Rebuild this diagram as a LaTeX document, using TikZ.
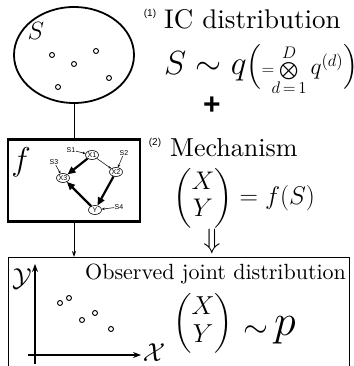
\RequirePackage{fix-cm}
\documentclass[tikz,border=0pt]{standalone}
\usepackage{amsmath}
\usepackage{fontspec}
\setmainfont{lmroman10-regular}[Extension=.otf]
\newfontfamily\labelfont{Liberation Sans}
\usetikzlibrary{arrows.meta,positioning,shapes.geometric}

\tikzset{
  gnode/.style={draw, ellipse, line width=0.6pt, inner sep=0pt, minimum width=13pt, minimum height=9pt, font=\labelfont\fontsize{7}{8}\selectfont},
  slabel/.style={font=\labelfont\fontsize{7}{8}\selectfont, inner sep=0.5pt},
  causal/.style={-{Triangle[length=8pt,width=7pt]}, line width=2.2pt},
  feed/.style={-{Stealth[length=3pt,width=2.5pt]}, line width=0.5pt},
  dot/.style={circle, draw, line width=0.9pt, minimum size=5pt, inner sep=0pt},
  bigtext/.style={anchor=base west, inner sep=0pt},
}

\begin{document}
\begin{tikzpicture}[x=1pt, y=-1pt]
  \useasboundingbox (0,0) rectangle (353,366);
  \clip (0,0) rectangle (353,366);

  % Independent components
  \node[draw, ellipse, line width=1.8pt, minimum width=120pt, minimum height=96pt] (ics) at (74,55) {};
  \node[font=\fontsize{25}{28}\selectfont] (setS) at (36,31) {$S$};
  \foreach \px/\py/\k in {52/55/1, 74/64/2, 96/51/3, 58/87/4, 109/78/5}
    \node[dot] (ic\k) at (\px,\py) {};

  % Mechanism box with the causal graph
  \node[draw, line width=2.4pt, minimum width=132pt, minimum height=82pt, inner sep=0pt] (mech) at (74,180.5) {};
  \node[font=\fontsize{33}{36}\selectfont] (fname) at (21,162) {$f$};

  \node[gnode] (x1) at (92,155) {X1};
  \node[gnode] (x2) at (116,172) {X2};
  \node[gnode] (x3) at (63,178) {X3};
  \node[gnode] (y) at (95,210) {Y};
  \node[slabel] (s1) at (71,150) {S1};
  \node[slabel] (s2) at (124,153) {S2};
  \node[slabel] (s3) at (54,162) {S3};
  \node[slabel] (s4) at (119,207) {S4};

  \draw[feed] (s1) -- (x1);
  \draw[feed] (s2) -- (x2);
  \draw[feed] (s3) -- (x3);
  \draw[feed] (s4) -- (y);
  \draw[feed] (x1) -- (x2);
  \draw[causal] (x1) -- (x3);
  \draw[causal] (x2) -- (y);
  \draw[causal] (y) -- (x3);

  % Observation box (open at the bottom)
  \node[draw, line width=1pt, minimum width=341pt, minimum height=140pt, anchor=north, inner sep=0pt] (obs) at (178.5,257) {};

  \draw[line width=1pt] (ics.south) -- (mech.north);
  \draw[line width=1pt, -{Stealth[length=6pt,width=4pt]}] (mech.south) -- (mech.south |- obs.north);

  % (1) and (2) on the right
  \node[font=\labelfont\fontsize{10}{12}\selectfont] (num1) at (150,14) {(1)};
  \node[bigtext, font=\fontsize{27}{30}\selectfont] (icdist) at (164,29) {IC distribution};
  \node[bigtext, font=\fontsize{33.5}{37}\selectfont] (icform) at (164,75) {$S\sim q\bigl(\scriptscriptstyle=\!\bigotimes\limits_{d\,=\,1}^{D}\scriptstyle q^{(d)}\bigr)$};
  \node[font=\labelfont\bfseries\fontsize{30}{32}\selectfont] (plus) at (212,106) {+};
  \node[font=\labelfont\fontsize{10}{12}\selectfont] (num2) at (155,143) {(2)};
  \node[bigtext, font=\fontsize{26}{28}\selectfont] (mechtxt) at (170,157) {Mechanism};
  \node[anchor=west, inner sep=0pt, font=\fontsize{25.5}{27}\selectfont] (mechform) at (173,198) {$\begin{pmatrix}X\\Y\end{pmatrix}=f(S)$};
  \node[font=\fontsize{28}{30}\selectfont] (implies) at (212,241) {$\Downarrow$};

  % Observed joint distribution
  \node[bigtext, font=\fontsize{22}{24}\selectfont] (obstxt) at (85,279) {Observed joint distribution};
  \coordinate (xstart) at (28,355);
  \coordinate (xend) at (141,355);
  \coordinate (ystart) at (35,364);
  \coordinate (yend) at (35,264);
  \draw[line width=1.2pt, -{Stealth[length=8pt,width=6pt]}] (xstart) -- (xend);
  \draw[line width=1.2pt, -{Stealth[length=8pt,width=6pt]}] (ystart) -- (yend);
  \node[font=\fontsize{26}{28}\selectfont] (xlab) at (154,353) {$\mathcal{X}$};
  \node[font=\fontsize{26}{28}\selectfont] (ylab) at (22,279) {$\mathcal{Y}$};
  \foreach \px/\py/\k in {60/303/1, 69/298/2, 82/320/3, 95/313/4, 111/329/5}
    \node[dot] (obs\k) at (\px,\py) {};

  \node[font=\fontsize{26}{28}\selectfont] (obsmat) at (203,323) {$\begin{pmatrix}X\\Y\end{pmatrix}$};
  \node[font=\fontsize{32}{34}\selectfont] (simnode) at (256,332) {$\sim$};
  \node[anchor=base, font=\fontsize{44}{46}\selectfont] (pnode) at (285,335) {$p$};
\end{tikzpicture}
\end{document}
